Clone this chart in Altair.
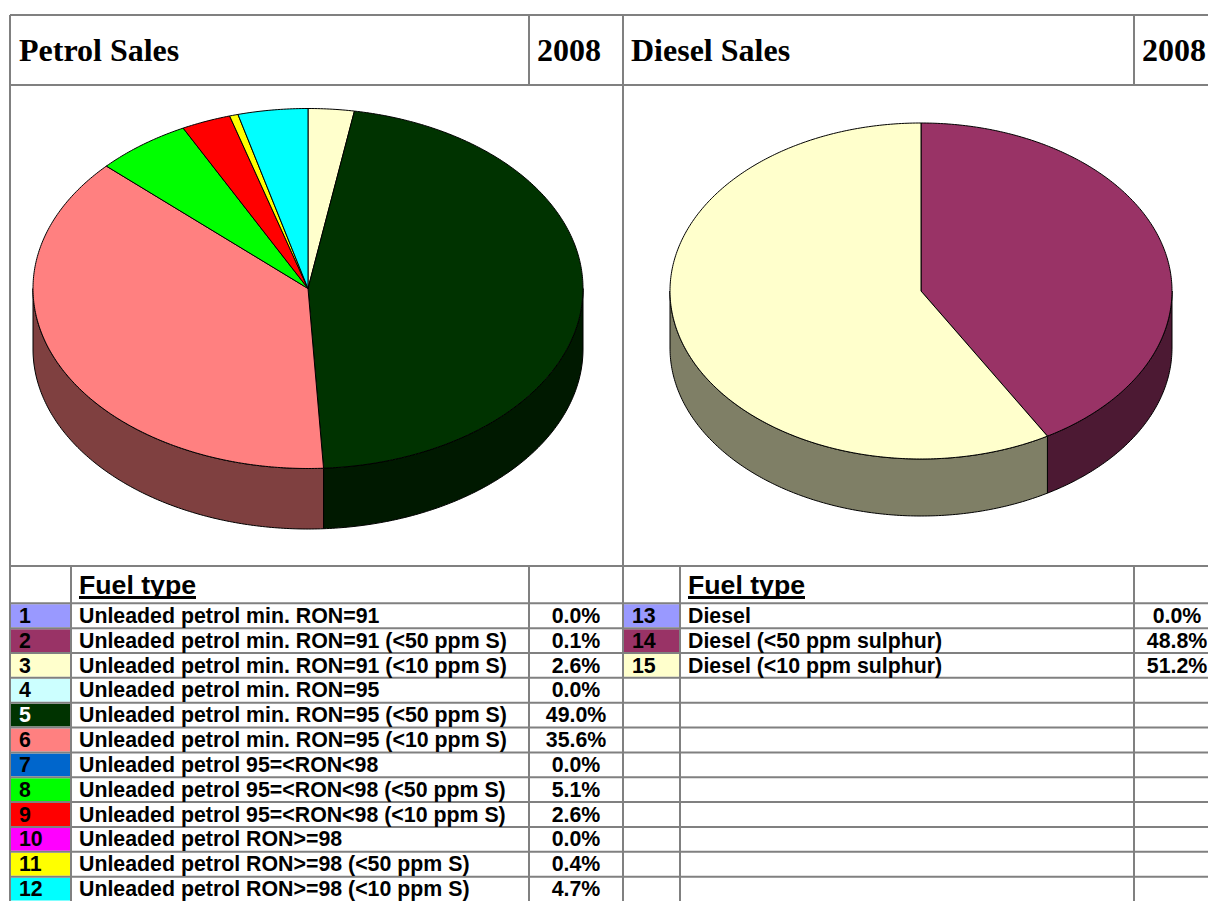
import math
import altair as alt
import pandas as pd

# ---- table content -------------------------------------------------------
petrol_ids = [str(i) for i in range(1, 13)]
petrol_id_text = ["black", "black", "black", "black", "white", "black",
                  "black", "black", "black", "black", "black", "black"]
petrol_fuels = [
    "Unleaded petrol min. RON=91",
    "Unleaded petrol min. RON=91 (<50 ppm S)",
    "Unleaded petrol min. RON=91 (<10 ppm S)",
    "Unleaded petrol min. RON=95",
    "Unleaded petrol min. RON=95 (<50 ppm S)",
    "Unleaded petrol min. RON=95 (<10 ppm S)",
    "Unleaded petrol 95=<RON<98",
    "Unleaded petrol 95=<RON<98 (<50 ppm S)",
    "Unleaded petrol 95=<RON<98 (<10 ppm S)",
    "Unleaded petrol RON>=98",
    "Unleaded petrol RON>=98 (<50 ppm S)",
    "Unleaded petrol RON>=98 (<10 ppm S)",
]
petrol_shares = ["0.0%", "0.1%", "2.6%", "0.0%", "49.0%", "35.6%",
                 "0.0%", "5.1%", "2.6%", "0.0%", "0.4%", "4.7%"]
petrol_colors = ["#9999FF", "#993366", "#FFFFCC", "#CCFFFF", "#003300", "#FF8080",
                 "#0066CC", "#00FF00", "#FF0000", "#FF00FF", "#FFFF00", "#00FFFF"]

diesel_ids = ["13", "14", "15"]
diesel_fuels = ["Diesel", "Diesel (<50 ppm sulphur)", "Diesel (<10 ppm sulphur)"]
diesel_shares = ["0.0%", "48.8%", "51.2%"]
diesel_colors = ["#9999FF", "#993366", "#FFFFCC"]

# ---- slices as they appear in the drawn pies (percent of the ellipse) -----
petrol_pie_values = [2.7, 46.4, 37.8, 5.6, 2.9, 0.5, 4.1]
petrol_pie_colors = ["#FFFFCC", "#003300", "#FF8080", "#00FF00", "#FF0000", "#FFFF00", "#00FFFF"]
diesel_pie_values = [41.6, 58.4]
diesel_pie_colors = ["#993366", "#FFFFCC"]

FULL_W, FULL_H = 1216, 909
MARGIN = 8
GRID = "#808080"
PLOT_W, PLOT_H = FULL_W - 2 * MARGIN, FULL_H - 2 * MARGIN
x_scale = alt.Scale(domain=[MARGIN, MARGIN + PLOT_W], range=[0, PLOT_W], nice=False, zero=False)
y_scale = alt.Scale(domain=[MARGIN, MARGIN + PLOT_H], range=[0, PLOT_H], nice=False, zero=False)


def row_y(i):
    return 603.3 + 24.85 * i


def darker(color):
    r, g, b = (int(color[k:k + 2], 16) for k in (1, 3, 5))
    return "#%02X%02X%02X" % (r // 2, g // 2, b // 2)


def pie_rows(name, values, colors, cx, cy, rx, ry, depth):
    top, side = [], []
    total = sum(values)
    start = 0.0
    for idx, (val, col) in enumerate(zip(values, colors)):
        a0 = start / total * 2 * math.pi
        a1 = (start + val) / total * 2 * math.pi
        start += val
        n = max(3, int((a1 - a0) * 90))
        angles = [a0 + (a1 - a0) * k / n for k in range(n + 1)]
        pts = [(cx, cy)] + [(cx + rx * math.sin(t), cy - ry * math.cos(t)) for t in angles] + [(cx, cy)]
        for o, (px, py) in enumerate(pts):
            top.append(dict(id=f"{name}{idx}", x=px, y=py, o=o, fill=col))
        # visible wall: lower half of the ellipse only
        lo, hi = max(a0, math.pi / 2), min(a1, 3 * math.pi / 2)
        if hi > lo:
            n = max(3, int((hi - lo) * 90))
            angles = [lo + (hi - lo) * k / n for k in range(n + 1)]
            arc = [(cx + rx * math.sin(t), cy - ry * math.cos(t)) for t in angles]
            low = [(px, py + depth) for px, py in reversed(arc)]
            ring = arc + low + [arc[0]]
            for o, (px, py) in enumerate(ring):
                side.append(dict(id=f"{name}{idx}", x=px, y=py, o=o, fill=darker(col)))
    return top, side


t1, s1 = pie_rows("p", petrol_pie_values, petrol_pie_colors, 308, 288.5, 275, 180, 60.5)
t2, s2 = pie_rows("d", diesel_pie_values, diesel_pie_colors, 921, 291, 251, 168, 57)


def poly_layer(rows):
    return alt.Chart(pd.DataFrame(rows)).mark_line(stroke="black", strokeWidth=1).encode(
        x=alt.X("x:Q", scale=x_scale, axis=None),
        y=alt.Y("y:Q", scale=y_scale, axis=None),
        detail="id:N",
        order="o:Q",
        fill=alt.Fill("fill:N", scale=None),
    )


# ---- grid ---------------------------------------------------------------
BOTTOM = MARGIN + PLOT_H
RIGHT = MARGIN + PLOT_W
col_lines = [
    (10, 15, BOTTOM), (623, 15, BOTTOM),
    (529, 15, 85), (1134, 15, 85),
    (529, 566, BOTTOM), (1134, 566, BOTTOM),
    (71, 566, BOTTOM), (680, 566, BOTTOM),
]
row_lines = [15, 85, 566] + [row_y(i) for i in range(12)]
grid_rows = [dict(x=a, x2=a, y=b, y2=c) for a, b, c in col_lines]
grid_rows += [dict(x=10, x2=RIGHT, y=r, y2=r) for r in row_lines]
grid = alt.Chart(pd.DataFrame(grid_rows)).mark_rule(color=GRID, strokeWidth=2).encode(
    x=alt.X("x:Q", scale=x_scale, axis=None), x2="x2:Q",
    y=alt.Y("y:Q", scale=y_scale, axis=None), y2="y2:Q",
)

# ---- swatches -----------------------------------------------------------
sw = []
for i, c in enumerate(petrol_colors):
    sw.append(dict(x=11, x2=70, y=row_y(i) + 1, y2=min(row_y(i + 1) - 1, BOTTOM), fill=c))
for i, c in enumerate(diesel_colors):
    sw.append(dict(x=624, x2=679, y=row_y(i) + 1, y2=row_y(i + 1) - 1, fill=c))
swatches = alt.Chart(pd.DataFrame(sw)).mark_rect().encode(
    x=alt.X("x:Q", scale=x_scale, axis=None), x2="x2:Q",
    y=alt.Y("y:Q", scale=y_scale, axis=None), y2="y2:Q",
    fill=alt.Fill("fill:N", scale=None),
)


# ---- text ---------------------------------------------------------------
def text_layer(rows, font, size, align="left"):
    for r in rows:
        r.setdefault("c", "black")
    return alt.Chart(pd.DataFrame(rows)).mark_text(
        font=font, fontSize=size, fontWeight="bold", align=align, baseline="alphabetic"
    ).encode(
        x=alt.X("x:Q", scale=x_scale, axis=None),
        y=alt.Y("y:Q", scale=y_scale, axis=None),
        text="t:N",
        color=alt.Color("c:N", scale=None),
    )


heads = [dict(x=19, y=61, t="Petrol Sales"), dict(x=537, y=61, t="2008"),
         dict(x=631, y=61, t="Diesel Sales"), dict(x=1142, y=61, t="2008")]
fuel_heads = [dict(x=79, y=594, t="Fuel type"), dict(x=688, y=594, t="Fuel type")]
underline = alt.Chart(pd.DataFrame([dict(x=79, x2=196, y=597.5), dict(x=688, x2=805, y=597.5)])).mark_rule(
    color="black", strokeWidth=3
).encode(x=alt.X("x:Q", scale=x_scale, axis=None), x2="x2:Q", y=alt.Y("y:Q", scale=y_scale, axis=None))

left_rows = []
center_rows = []
for i in range(12):
    b = row_y(i) + 19.5
    left_rows += [dict(x=19, y=b, t=petrol_ids[i], c=petrol_id_text[i]), dict(x=79, y=b, t=petrol_fuels[i])]
    center_rows.append(dict(x=576, y=b, t=petrol_shares[i]))
for i in range(3):
    b = row_y(i) + 19.5
    left_rows += [dict(x=632, y=b, t=diesel_ids[i]), dict(x=688, y=b, t=diesel_fuels[i])]
    center_rows.append(dict(x=1177, y=b, t=diesel_shares[i]))

chart = alt.layer(
    swatches,
    grid,
    poly_layer(s1 + s2),
    poly_layer(t1 + t2),
    text_layer(heads, "Liberation Serif", 32),
    text_layer(fuel_heads, "Liberation Sans", 26.67),
    underline,
    text_layer(left_rows, "Liberation Sans", 21.33),
    text_layer(center_rows, "Liberation Sans", 21.33, "center"),
).properties(
    width=PLOT_W, height=PLOT_H, padding=0, background="white",
    autosize=alt.AutoSizeParams(type="none"),
).configure_view(stroke=None)

chart.save("out.html", embed_options={"renderer": "svg", "actions": False})
